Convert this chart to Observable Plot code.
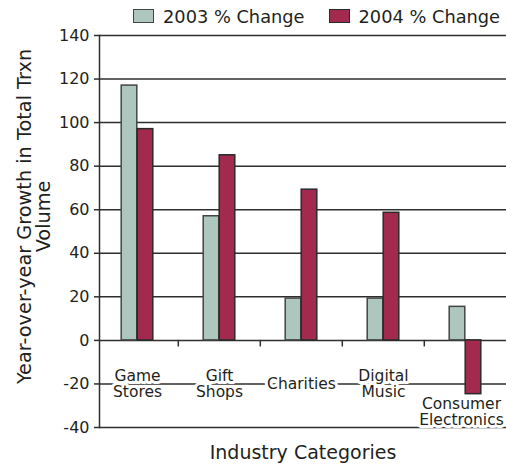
<!DOCTYPE html>
<html><head><meta charset="utf-8">
<script src="https://cdn.jsdelivr.net/npm/d3@7"></script>
<script src="https://cdn.jsdelivr.net/npm/@observablehq/plot@0.6"></script>
<style>
body{margin:0;background:#fff;font-family:"DejaVu Sans",sans-serif;color:#231f20}
#wrap{position:relative;width:506px;height:466px;overflow:hidden}
#legend{position:absolute;top:0;left:133px;height:32px;display:flex;align-items:center;font-size:17.8px;white-space:nowrap;z-index:2}
.item{display:flex;align-items:center;margin-right:24px}
.sw{width:19px;height:12px;border:1.5px solid #3a3a3a;margin-right:9px}
#chart{position:absolute;top:0;left:0}
</style></head><body>
<div id="wrap"><div id="legend"></div><div id="chart"></div></div>
<script>
const categories = ["Game Stores","Gift Shops","Charities","Digital Music","Consumer Electronics"];
const categoryLabels = ["Game\nStores","Gift\nShops","Charities","Digital\nMusic","Consumer\nElectronics"];
const series = ["2003 % Change","2004 % Change"];
const values2003 = [117, 57, 19.2, 19.2, 15.4];
const values2004 = [97, 85, 69.2, 58.6, -24.7];
const yTicks = [-40,-20,0,20,40,60,80,100,120,140];
const seriesColors = ["#adc6be","#a22a4e"];
const seriesStrokes = ["#444444","#2a2a2a"];

const ink = "#231f20";
const W = 506, H = 466;
const xRange = [95, 507];
const bw = (xRange[1]-xRange[0]) / categories.length;
const barW = 16;

const d2003 = categories.map((c,i)=>({category:c, value:values2003[i]}));
const d2004 = categories.map((c,i)=>({category:c, value:values2004[i]}));
const labelData = categories.map((c,i)=>({category:c, label:categoryLabels[i]}));
const lastCat = categories[categories.length-1];

// legend
const legend = document.getElementById("legend");
series.forEach((s,i)=>{
  const it = document.createElement("div"); it.className="item";
  const sw = document.createElement("div"); sw.className="sw";
  sw.style.background = seriesColors[i]; sw.style.borderColor = seriesStrokes[i];
  const tx = document.createElement("span"); tx.textContent = s;
  it.appendChild(sw); it.appendChild(tx); legend.appendChild(it);
});

const chart = Plot.plot({
  width: W, height: H,
  marginLeft: 99, marginRight: 0, marginTop: 35, marginBottom: 39,
  style: {fontFamily: '"DejaVu Sans", sans-serif', color: ink, background: "#fff", overflow: "visible"},
  x: {type: "band", domain: categories, range: xRange, padding: 0, axis: null},
  y: {domain: [-40, 140], axis: null},
  marks: [
    Plot.ruleY(yTicks, {stroke: "#2e2e2e", strokeWidth: 1.5}),
    Plot.text(labelData.filter(d=>d.category!==lastCat), {x: "category", y: -20, text: "label", fontSize: 15.5, lineHeight: 1.03, fill: ink, stroke: "white", strokeWidth: 6, paintOrder: "stroke"}),
    Plot.text(labelData.filter(d=>d.category===lastCat), {x: "category", y: -20, text: "label", fontSize: 15.5, lineHeight: 1.03, dy: 28, dx: -4, fill: ink, stroke: "white", strokeWidth: 6, paintOrder: "stroke"}),
    Plot.barY(d2003, {x: "category", y: "value", fill: seriesColors[0], stroke: seriesStrokes[0], strokeWidth: 1.5, insetLeft: bw/2 - barW, insetRight: bw/2}),
    Plot.barY(d2004, {x: "category", y: "value", fill: seriesColors[1], stroke: seriesStrokes[1], strokeWidth: 1.5, insetLeft: bw/2, insetRight: bw/2 - barW}),
    Plot.ruleX(categories.slice(1), {x: d=>d, y1: 0, y2: -3, dx: -bw/2, stroke: "#2e2e2e", strokeWidth: 1.5}),
    Plot.frame({anchor: "left", stroke: "#2e2e2e", strokeWidth: 1.5}),
    Plot.axisY({ticks: yTicks, tickFormat: d => String(d), tickSize: 5, tickPadding: 5, fontSize: 16, stroke: "#2e2e2e", strokeWidth: 1.5, fill: ink, label: null}),
    Plot.text(["Year-over-year Growth in Total Trxn\nVolume"], {text: d=>d, frameAnchor: "left", textAnchor: "middle", lineAnchor: "middle", rotate: -90, dx: -65, dy: -15, fontSize: 19.3, lineHeight: 0.95, fill: ink}),
    Plot.text(["Industry Categories"], {text: d=>d, frameAnchor: "bottom", textAnchor: "middle", lineAnchor: "middle", dy: 25, fontSize: 19, fill: ink})
  ]
});
document.getElementById("chart").appendChild(chart);
</script>
</body></html>
